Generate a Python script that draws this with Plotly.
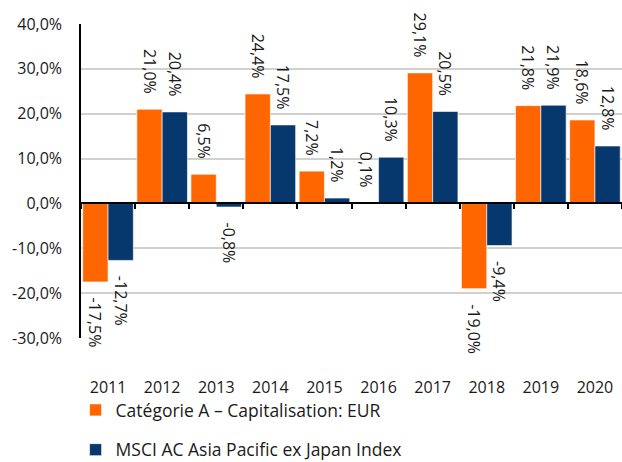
import plotly.graph_objects as go

years = ["2011", "2012", "2013", "2014", "2015", "2016", "2017", "2018", "2019", "2020"]
fund = [-17.5, 21.0, 6.5, 24.4, 7.2, 0.1, 29.1, -19.0, 21.8, 18.6]
index = [-12.7, 20.4, -0.8, 17.5, 1.2, 10.3, 20.5, -9.4, 21.9, 12.8]
name_fund = "Catégorie A – Capitalisation: EUR"
name_index = "MSCI AC Asia Pacific ex Japan Index"
y_ticks = [-30, -20, -10, 0, 10, 20, 30, 40]

ORANGE = "#FF6600"
BLUE = "#06386E"
FONT = "Open Sans"
TXT = "#1a1a1a"
PAD = "\u00a0\u00a0\u00a0"
ZW = "\u200b"

def fmt(v):
    return f"{v:.1f}".replace(".", ",") + "%"

def label(v):
    s = fmt(v)
    return s + PAD + ZW if v >= 0 else ZW + PAD + s

x = list(range(len(years)))

fig = go.Figure()
for vals, nm, col in [(fund, name_fund, ORANGE), (index, name_index, BLUE)]:
    fig.add_trace(go.Bar(
        x=x, y=vals, name=nm, legendgroup=nm,
        marker=dict(color=col, line=dict(color="white", width=0.6)),
        text=[label(v) for v in vals], textposition="outside", textangle=90,
        textfont=dict(family=FONT, size=16, color=TXT),
        constraintext="none", cliponaxis=False,
    ))

ymin, ymax = y_ticks[0], y_ticks[-1]
zero_pos = (0 - ymin) / (ymax - ymin)

fig.update_layout(
    width=622, height=462,
    margin=dict(l=81, r=0, t=24, b=124, autoexpand=False),
    paper_bgcolor="white", plot_bgcolor="white",
    separators=",.",
    barmode="group", bargap=0.065, bargroupgap=0,
    font=dict(family=FONT, size=16, color=TXT),
    xaxis=dict(range=[-0.5, len(years) - 0.5], tickvals=x, ticktext=years,
               showgrid=False, showline=False, ticks="", zeroline=False,
               tickfont=dict(size=16), ticklabelstandoff=38),
    xaxis2=dict(overlaying="x", anchor="free", position=zero_pos,
                range=[-0.5, len(years) - 0.5],
                tickvals=[i - 0.5 for i in range(len(years) + 1)],
                ticks="outside", ticklen=5, tickwidth=1.5, tickcolor="black",
                showticklabels=False, showline=True, linecolor="black", linewidth=1.5,
                showgrid=False, zeroline=False),
    yaxis=dict(range=[ymin, ymax], tickvals=y_ticks, ticktext=[fmt(v) for v in y_ticks],
               showgrid=True, gridcolor="#D0D0D0", gridwidth=1.5,
               showline=True, linecolor="black", linewidth=1.5,
               zeroline=False, ticks="", ticklabelstandoff=14,
               tickfont=dict(size=16)),
    legend=dict(orientation="v", x=-0.01, xanchor="left",
                yref="container", y=0.1515, yanchor="top",
                font=dict(family=FONT, size=17.5, color=TXT),
                tracegroupgap=14, bgcolor="rgba(0,0,0,0)"),
    showlegend=True,
)
fig.add_trace(go.Scatter(x=[None], y=[None], xaxis="x2", showlegend=False, hoverinfo="skip"))

fig.write_html("out.html")
